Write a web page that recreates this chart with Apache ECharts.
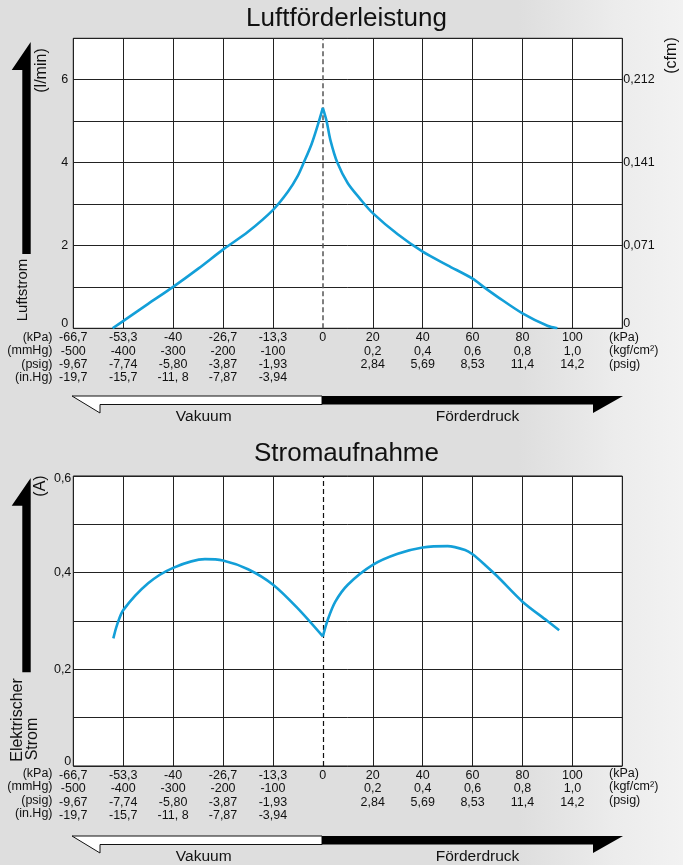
<!DOCTYPE html>
<html>
<head>
<meta charset="utf-8">
<script src="https://cdn.jsdelivr.net/npm/echarts@6/dist/echarts.min.js"></script>
<style>
html,body{margin:0;padding:0;}
body{width:683px;height:865px;overflow:hidden;background:linear-gradient(90deg,#dedede 0%,#dedede 76%,#ececec 90%,#f2f2f2 100%);}
#c{width:683px;height:865px;}
</style>
</head>
<body>
<div id="c"></div>
<script>
// ---------- data ----------
// x-axis tick labels (vacuum side / pressure side)
const kPaVac = ['-66,7','-53,3','-40','-26,7','-13,3'];
const kPaZero = '0';
const kPaPos = ['20','40','60','80','100'];
const mmHgVac = ['-500','-400','-300','-200','-100'];
const kgfPos = ['0,2','0,4','0,6','0,8','1,0'];
const psigVac = ['-9,67','-7,74','-5,80','-3,87','-1,93'];
const psigPos = ['2,84','5,69','8,53','11,4','14,2'];
const inHgVac = ['-19,7','-15,7','-11, 8','-7,87','-3,94'];
const unitsLeft = ['(kPa)','(mmHg)','(psig)','(in.Hg)'];
const unitsRight = ['(kPa)','(kgf/cm²)','(psig)'];

// y tick labels
const flowTicks = {0:'0',2:'2',4:'4',6:'6'};
const cfmTicks = {0:'0',2:'0,071',4:'0,141',6:'0,212'};
const ampTicks = {0:'0',2:'0,2',4:'0,4',6:'0,6'};

// Luftstrom (l/min) vs pressure (kPa)
const flowVacKPa = [-56.2, -53.3, -46.7, -40, -33.3, -26.7, -20, -13.3, -9.3, -6.7, -5.1, -3, -1.2, 0];
const flowVac    = [0, 0.18, 0.59, 1.0, 1.44, 1.9, 2.33, 2.86, 3.3, 3.68, 4.0, 4.45, 4.95, 5.32];
const flowPosKPa = [0, 1.5, 3, 5.8, 10, 15, 20, 30, 40, 50, 60, 64.4, 70, 80, 90, 94];
const flowPos    = [5.32, 5.0, 4.55, 4.0, 3.5, 3.12, 2.78, 2.27, 1.85, 1.52, 1.2, 1.0, 0.76, 0.36, 0.06, 0];

// Stromaufnahme (A) vs pressure (kPa)
const curVacKPa = [-56.0, -55.0, -53.3, -46.7, -40, -31.5, -26.7, -20, -13.3, -6.7, 0];
const curVac    = [0.264, 0.292, 0.323, 0.378, 0.410, 0.428, 0.425, 0.407, 0.375, 0.326, 0.268];
const curPosKPa = [0, 2, 5, 10, 20, 30, 40, 50, 57, 60, 65, 70, 80, 90, 94.7];
const curPos    = [0.268, 0.303, 0.34, 0.375, 0.416, 0.439, 0.452, 0.455, 0.447, 0.438, 0.416, 0.392, 0.34, 0.3, 0.281];

// ---------- helpers ----------
// the x-axis has two linear segments: vacuum (-66.7..0 kPa, 5 divisions) and pressure (0..100 kPa, 20 kPa per division)
function pos(k){ return k <= 0 ? (k + 66.7) / 13.34 : 5 + k / 20; }
function pts(xs, ys){ return xs.map((k,i)=>[pos(k), ys[i]]); }

const FONT = '"Liberation Sans", Arial, Helvetica, sans-serif';
const BLUE = '#139fd8';

function xLabel(v){
  const i = Math.round(v);
  if (i < 5) return [kPaVac[i], mmHgVac[i], psigVac[i], inHgVac[i]].join('\n');
  if (i === 5) return kPaZero;
  if (i <= 10) return [kPaPos[i-6], kgfPos[i-6], psigPos[i-6]].join('\n');
  return '';
}
const splitColors = [];
for (let i=0;i<12;i++) splitColors.push(i===5 ? 'rgba(0,0,0,0)' : '#222');

function xAxis(gi){
  return {
    type:'value', gridIndex:gi, min:0, max:11, interval:1,
    axisLine:{show:false}, axisTick:{show:false},
    splitLine:{show:true, lineStyle:{color:splitColors, width:1}},
    axisLabel:{formatter:xLabel, margin:3, fontSize:12.5, lineHeight:13.3, color:'#111', fontFamily:FONT,
      showMinLabel:true, showMaxLabel:true}
  };
}
function richLabel(map, scale){
  return function(v){
    const k = Math.round(v*scale);
    if (!(k in map)) return '';
    if (k === 0) return '{lo|' + map[k] + '}';
    if (k === 6 && scale === 10) return '{hi|' + map[k] + '}';
    return map[k];
  };
}
const richStyles = {
  lo:{padding:[0,0,9,0], fontSize:12.5, color:'#111', fontFamily:FONT},
  hi:{padding:[6,0,0,0], fontSize:12.5, color:'#111', fontFamily:FONT}
};
const lineCommon = {type:'line', smooth:0.3, showSymbol:false,
  lineStyle:{color:BLUE, width:2.6}, z:5};

const option = {
  animation:false,
  backgroundColor:'transparent',
  grid:[
    {left:73.3, top:38.3, width:549, height:290, show:true, backgroundColor:'#fff', borderColor:'#111', borderWidth:1},
    {left:73.3, top:476, width:549, height:290, show:true, backgroundColor:'#fff', borderColor:'#111', borderWidth:1}
  ],
  xAxis:[xAxis(0), xAxis(1)],
  yAxis:[
    {type:'value', gridIndex:0, min:0, max:7, interval:1,
      axisLine:{show:false}, axisTick:{show:false},
      splitLine:{show:true, lineStyle:{color:'#222', width:1}},
      axisLabel:{formatter:richLabel(flowTicks,1), rich:richStyles, margin:5, fontSize:12.5, color:'#111', fontFamily:FONT}},
    {type:'value', gridIndex:0, min:0, max:7, interval:1, position:'right',
      axisLine:{show:false}, axisTick:{show:false}, splitLine:{show:false},
      axisLabel:{formatter:richLabel(cfmTicks,1), rich:richStyles, margin:1, fontSize:12.5, color:'#111', fontFamily:FONT}},
    {type:'value', gridIndex:1, min:0, max:0.6, interval:0.1,
      axisLine:{show:false}, axisTick:{show:false},
      splitLine:{show:true, lineStyle:{color:'#222', width:1}},
      axisLabel:{formatter:richLabel(ampTicks,10), rich:richStyles, margin:2, fontSize:12.5, color:'#111', fontFamily:FONT}}
  ],
  series:[
    Object.assign({}, lineCommon, {xAxisIndex:0, yAxisIndex:0, data:pts(flowVacKPa, flowVac),
      markLine:{silent:true, symbol:'none', label:{show:false},
        lineStyle:{color:'#555', type:[5,3], width:1.5}, data:[{xAxis:pos(0)}]}}),
    Object.assign({}, lineCommon, {xAxisIndex:0, yAxisIndex:0, data:pts(flowPosKPa, flowPos)}),
    Object.assign({}, lineCommon, {xAxisIndex:1, yAxisIndex:2, data:pts(curVacKPa, curVac),
      markLine:{silent:true, symbol:'none', label:{show:false},
        lineStyle:{color:'#111', type:[5,3], width:1.2}, data:[{xAxis:pos(0)}]}}),
    Object.assign({}, lineCommon, {xAxisIndex:1, yAxisIndex:2, data:pts(curPosKPa, curPos)})
  ],
  graphic:[]
};

// ---------- decorations ----------
const g = option.graphic;
function txt(t, x, y, size, align, vAlign, rot){
  g.push({type:'text', x:x, y:y, rotation:rot||0,
    style:{text:t, fill:'#111', font: size+'px '+FONT, textAlign:align, textVerticalAlign:vAlign, align:align, verticalAlign:vAlign}});
}
txt('Luftförderleistung', 346.5, 19, 26, 'center', 'middle');
txt('Stromaufnahme', 346.5, 453.5, 26, 'center', 'middle');

// vertical axis captions (rotated)
const R = Math.PI/2;
txt('(l/min)', 41.7, 70.5, 16, 'center', 'middle', R);
txt('(cfm)', 671.7, 55.5, 16, 'center', 'middle', R);
txt('Luftstrom', 22.5, 290, 15, 'center', 'middle', R);
txt('(A)', 41, 486, 16, 'center', 'middle', R);
txt('Elektrischer', 17.5, 720, 16, 'center', 'middle', R);
txt('Strom', 32.5, 739, 16, 'center', 'middle', R);

// unit labels beside x-axis label rows
function units(top){
  unitsLeft.forEach((u,i)=>txt(u, 52.5, top + i*13.3, 12.5, 'right', 'middle'));
  unitsRight.forEach((u,i)=>txt(u, 609, top + i*13.3, 12.5, 'left', 'middle'));
}
units(337.5);
units(773.5);

// big vertical arrows
function vArrow(tipY, barbY, endY){
  g.push({type:'polygon', shape:{points:[[30.7,tipY],[11.7,barbY],[22.3,barbY],[22.3,endY],[30.7,endY]]},
    style:{fill:'#000'}});
}
vArrow(42, 70, 254);
vArrow(478, 505.7, 672.3);

// horizontal direction arrows
function hArrows(top){
  const b = top + 8.5, tip = top + 17;
  g.push({type:'polygon', shape:{points:[[72,top],[322,top],[322,b],[100,b],[100,tip]]},
    style:{fill:'#fff', stroke:'#111', lineWidth:1}});
  g.push({type:'polygon', shape:{points:[[322,top],[623,top],[593,tip],[593,b],[322,b]]},
    style:{fill:'#000'}});
  txt('Vakuum', 203.7, top + 20.5, 15.5, 'center', 'middle');
  txt('Förderdruck', 477.5, top + 20.5, 15.5, 'center', 'middle');
}
hArrows(396);
hArrows(836);

const chart = echarts.init(document.getElementById('c'), null, {renderer:'canvas'});
chart.setOption(option);
</script>
</body>
</html>
